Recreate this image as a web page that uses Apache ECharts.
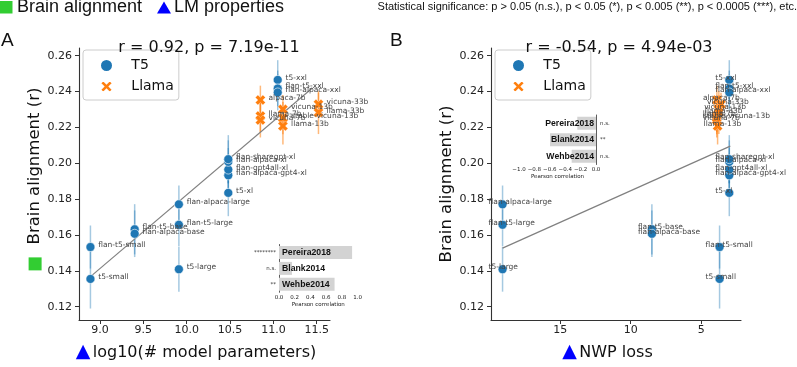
<!DOCTYPE html>
<html>
<head>
<meta charset="utf-8">
<script src="https://cdn.jsdelivr.net/npm/echarts@6/dist/echarts.min.js"></script>
<style>
    html, body { margin: 0; padding: 0; background: #fff; }
    #chart { width: 797px; height: 367px; }
</style>
</head>
<body>
<div id="chart"></div>
<script>
// T5 family
const t5Names = ['t5-small', 'flan-t5-small', 'flan-t5-base', 'flan-alpaca-base', 't5-large', 'flan-t5-large',
    'flan-alpaca-large', 't5-xl', 'flan-alpaca-gpt4-xl', 'flan-gpt4all-xl', 'flan-alpaca-xl', 'flan-sharegpt-xl',
    't5-xxl', 'flan-t5-xxl', 'flan-alpaca-xxl'];
const t5Params = [8.89, 8.89, 9.40, 9.40, 9.91, 9.91, 9.91, 10.48, 10.48, 10.48, 10.48, 10.48, 11.05, 11.05, 11.05];
const t5Loss = [3.70, 3.70, 8.50, 8.50, 19.09, 19.09, 19.09, 3.01, 3.01, 3.01, 3.01, 3.01, 3.01, 3.01, 3.01];
const t5Align = [0.1355, 0.1533, 0.1632, 0.1607, 0.1409, 0.1657, 0.1771, 0.1835, 0.1933, 0.1965, 0.2008, 0.2023,
    0.2465, 0.2417, 0.2395];
const t5Err = [0.0165, 0.012, 0.014, 0.013, 0.0125, 0.012, 0.0105, 0.013, 0.012, 0.012, 0.012, 0.0134, 0.011, 0.01, 0.01];

// Llama family
const llamaNames = ['alpaca-7b', 'llama-7b', 'vicuna-7b', 'vicuna-13b', 'stable-vicuna-13b', 'llama-13b',
    'vicuna-33b', 'llama-33b'];
const llamaParams = [10.85, 10.85, 10.85, 11.11, 11.11, 11.11, 11.52, 11.52];
const llamaLoss = [3.89, 3.90, 3.90, 3.80, 3.90, 3.84, 3.60, 3.75];
const llamaAlign = [0.2353, 0.2264, 0.2241, 0.2301, 0.2252, 0.2208, 0.2329, 0.2283];
const llamaErr = [0.008, 0.009, 0.0097, 0.008, 0.009, 0.0103, 0.0065, 0.012];

// regression lines (end points)
const fitParamsX = [8.89, 11.45];
const fitParamsY = [0.1368, 0.2420];
const fitLossX = [19.09, 2.94];
const fitLossY = [0.1527, 0.2096];

// inset bar charts
const datasets = ['Pereira2018', 'Blank2014', 'Wehbe2014'];
const paramsCorr = [0.93, 0.165, 0.707];
const paramsSig = ['********', 'n.s.', '**'];
const lossCorr = [-0.243, -0.597, -0.316];
const lossSig = ['n.s.', '**', 'n.s.'];

// ticks
const yTicks = [0.12, 0.14, 0.16, 0.18, 0.20, 0.22, 0.24, 0.26];
const paramsTicks = [9.0, 9.5, 10.0, 10.5, 11.0, 11.5];
const lossTicks = [5, 10, 15];
const insetTicksPos = [0, 0.2, 0.4, 0.6, 0.8, 1.0];
const insetTicksNeg = [-1.0, -0.8, -0.6, -0.4, -0.2, 0];

const BLUE = '#1f77b4';
const ORANGE = '#ff7f0e';
const GREEN = '#32cd32';
const X_PATH = 'path://M0.25,0 L0.5,0.25 L0.75,0 L1,0.25 L0.75,0.5 L1,0.75 L0.75,1 L0.5,0.75 L0.25,1 L0,0.75 L0.25,0.5 L0,0.25 Z';
const SANS = 'DejaVu Sans';

const chart = echarts.init(document.getElementById('chart'), null, {renderer: 'canvas'});

function points(xs, ys, names) {
    return xs.map((x, i) => ({name: names[i], value: [x, ys[i]]}));
}

function errData(xs, ys, es) {
    return xs.map((x, i) => [x, ys[i], es[i]]);
}

function errSeries(data, color, idx) {
    return {
        type: 'custom',
        xAxisIndex: idx, yAxisIndex: idx,
        data: data,
        encode: {x: 0, y: 1},
        z: 2,
        silent: true,
        renderItem: (params, api) => {
            const x = api.value(0), y = api.value(1), e = api.value(2);
            const top = api.coord([x, y + e]);
            const bot = api.coord([x, y - e]);
            return {
                type: 'line',
                shape: {x1: top[0], y1: top[1], x2: bot[0], y2: bot[1]},
                style: {stroke: color, lineWidth: 1.5}
            };
        }
    };
}

// triangle in front, same width padded after so the words stay centred
const nameRich = {
    tri: {color: '#0000ff', fontSize: 19, width: 17, align: 'left'},
    pad: {width: 17},
    sq: {width: 13, height: 13, backgroundColor: GREEN},
    gap: {width: 13},
    off: {width: 10}
};

function mainXAxis(idx, min, max, ticks, inverse, nameText) {
    return {
        type: 'value', gridIndex: idx, min: min, max: max, inverse: inverse,
        name: '{tri|▲}' + nameText + '{pad|}',
        nameLocation: 'middle', nameGap: 23,
        nameTextStyle: {fontFamily: SANS, fontSize: 16, color: '#111', rich: nameRich},
        axisLine: {lineStyle: {color: '#333', width: 1.1}},
        axisTick: {length: 4, customValues: ticks, lineStyle: {color: '#333'}},
        axisLabel: {customValues: ticks, fontFamily: SANS, fontSize: 11, color: '#222', margin: 5,
            formatter: v => idx === 0 ? v.toFixed(1) : String(Math.round(v))},
        splitLine: {show: false}
    };
}

function mainYAxis(idx, name) {
    return {
        type: 'value', gridIndex: idx, min: 0.1126, max: 0.2643,
        name: name,
        nameLocation: 'middle', nameGap: 35, nameRotate: 90,
        nameTextStyle: {fontFamily: SANS, fontSize: 16.5, color: '#111', rich: nameRich},
        axisLine: {show: true, lineStyle: {color: '#333', width: 1.1}},
        axisTick: {show: true, length: 4, customValues: yTicks, lineStyle: {color: '#333'}},
        axisLabel: {customValues: yTicks, fontFamily: SANS, fontSize: 11, color: '#222', margin: 7,
            formatter: v => v.toFixed(2)},
        splitLine: {show: false}
    };
}

const pointLabelLeft = {
    show: true, formatter: '{b}', position: 'right', distance: 3, offset: [0, -2],
    fontFamily: SANS, fontSize: 7.5, color: '#444'
};
const pointLabelRight = {
    show: true, formatter: '{b}', position: 'inside', align: 'left', offset: [-14, -2],
    fontFamily: SANS, fontSize: 7.5, color: '#444'
};

function legendBox(left) {
    return {
        left: left, top: 50, orient: 'vertical',
        padding: [8, 5, 6, 16], itemGap: 6, itemWidth: 13, itemHeight: 13,
        borderColor: '#ccc', borderWidth: 1, borderRadius: 3,
        backgroundColor: 'rgba(255,255,255,0.8)',
        formatter: n => '   ' + n,
        textStyle: {fontFamily: SANS, fontSize: 14, color: '#111'},
        data: [{name: 'T5', icon: 'circle'}, {name: 'Llama', icon: X_PATH}]
    };
}

function scatter(name, idx, xs, ys, names, symbol, label) {
    return {
        name: name, type: 'scatter', xAxisIndex: idx, yAxisIndex: idx, z: 4,
        data: points(xs, ys, names),
        symbol: symbol, symbolSize: symbol === 'circle' ? 9 : 10,
        itemStyle: {color: symbol === 'circle' ? BLUE : ORANGE, borderColor: '#fff',
            borderWidth: symbol === 'circle' ? 0.6 : 0.3, opacity: 1},
        label: label
    };
}

const option = {
    animation: false,
    backgroundColor: '#fff',
    title: [
        {text: 'r = 0.92, p = 7.19e-11', left: 204, top: 35, textAlign: 'center',
            textStyle: {fontFamily: SANS, fontSize: 16, fontWeight: 'normal', color: '#111'}},
        {text: 'r = -0.54, p = 4.94e-03', left: 614, top: 35, textAlign: 'center',
            textStyle: {fontFamily: SANS, fontSize: 16, fontWeight: 'normal', color: '#111'}}
    ],
    legend: [legendBox(83), legendBox(495)],
    grid: [
        {left: 79, top: 48, width: 251, height: 272},
        {left: 491, top: 48, width: 250, height: 272},
        {left: 279, top: 244.5, width: 78.6, height: 47.8},
        {left: 519, top: 115, width: 77, height: 49.5}
    ],
    xAxis: [
        mainXAxis(0, 8.758, 11.653, paramsTicks, false, 'log10(# model parameters)'),
        mainXAxis(1, 2.18, 19.91, lossTicks, true, 'NWP loss'),
        {
            type: 'value', gridIndex: 2, min: 0, max: 1,
            name: 'Pearson correlation', nameLocation: 'middle', nameGap: 9,
            nameTextStyle: {fontFamily: SANS, fontSize: 5.5, color: '#222'},
            axisLine: {lineStyle: {color: '#333', width: 0.8}},
            axisTick: {length: 2, customValues: insetTicksPos, lineStyle: {color: '#333', width: 0.6}},
            axisLabel: {customValues: insetTicksPos, fontFamily: SANS, fontSize: 5.5, color: '#222', margin: 2,
                formatter: v => v.toFixed(1)},
            splitLine: {show: false}
        },
        {
            type: 'value', gridIndex: 3, min: -1, max: 0,
            name: 'Pearson correlation', nameLocation: 'middle', nameGap: 9,
            nameTextStyle: {fontFamily: SANS, fontSize: 5.5, color: '#222'},
            axisLine: {lineStyle: {color: '#333', width: 0.8}},
            axisTick: {length: 2, customValues: insetTicksNeg, lineStyle: {color: '#333', width: 0.6}},
            axisLabel: {customValues: insetTicksNeg, fontFamily: SANS, fontSize: 5.5, color: '#222', margin: 2,
                formatter: v => v.toFixed(1).replace('-', '\u2212')},
            splitLine: {show: false}
        }
    ],
    yAxis: [
        mainYAxis(0, '{off|}{sq|}{gap|}Brain alignment (r)'),
        mainYAxis(1, 'Brain alignment (r)'),
        {
            type: 'category', gridIndex: 2, data: datasets, inverse: true,
            axisLine: {lineStyle: {color: '#333', width: 0.8}},
            axisTick: {show: false},
            axisLabel: {fontFamily: SANS, fontSize: 5.5, color: '#333', margin: 3,
                formatter: (v, i) => paramsSig[i]}
        },
        {
            type: 'category', gridIndex: 3, data: datasets, inverse: true, position: 'right',
            axisLine: {onZero: false, lineStyle: {color: '#333', width: 0.8}},
            axisTick: {show: false},
            axisLabel: {fontFamily: SANS, fontSize: 5.5, color: '#333', margin: 4,
                formatter: (v, i) => lossSig[i]}
        }
    ],
    series: [
        errSeries(errData(t5Params, t5Align, t5Err), 'rgba(31,119,180,0.4)', 0),
        errSeries(errData(llamaParams, llamaAlign, llamaErr), 'rgba(255,127,14,0.55)', 0),
        {
            type: 'line', xAxisIndex: 0, yAxisIndex: 0, silent: true, z: 3,
            data: fitParamsX.map((x, i) => [x, fitParamsY[i]]),
            showSymbol: false, lineStyle: {color: '#808080', width: 1.2}
        },
        scatter('T5', 0, t5Params, t5Align, t5Names, 'circle', pointLabelLeft),
        scatter('Llama', 0, llamaParams, llamaAlign, llamaNames, X_PATH, pointLabelLeft),
        errSeries(errData(t5Loss, t5Align, t5Err), 'rgba(31,119,180,0.4)', 1),
        errSeries(errData(llamaLoss, llamaAlign, llamaErr), 'rgba(255,127,14,0.55)', 1),
        {
            type: 'line', xAxisIndex: 1, yAxisIndex: 1, silent: true, z: 3,
            data: fitLossX.map((x, i) => [x, fitLossY[i]]),
            showSymbol: false, lineStyle: {color: '#808080', width: 1.2}
        },
        scatter('T5', 1, t5Loss, t5Align, t5Names, 'circle', pointLabelRight),
        scatter('Llama', 1, llamaLoss, llamaAlign, llamaNames, X_PATH, pointLabelRight),
        {
            type: 'bar', xAxisIndex: 2, yAxisIndex: 2, data: paramsCorr, barWidth: 13, silent: true,
            itemStyle: {color: '#d3d3d3'},
            label: {show: true, position: 'insideLeft', distance: 3, formatter: p => datasets[p.dataIndex],
                fontFamily: 'Liberation Sans', fontSize: 8.7, fontWeight: 'bold', color: '#111'}
        },
        {
            type: 'bar', xAxisIndex: 3, yAxisIndex: 3, data: lossCorr, barWidth: 13, silent: true,
            itemStyle: {color: '#d3d3d3'},
            label: {show: true, position: 'insideRight', distance: 2, formatter: p => datasets[p.dataIndex],
                fontFamily: 'Liberation Sans', fontSize: 8.7, fontWeight: 'bold', color: '#111'}
        }
    ],
    graphic: [
        {type: 'rect', left: 0, top: 1, shape: {width: 12.5, height: 12.5}, style: {fill: GREEN}},
        {type: 'text', left: 17, top: -1.5, style: {text: 'Brain alignment', font: '18px "Liberation Sans"', fill: '#111'}},
        {type: 'polygon', shape: {points: [[157, 13.5], [164, 1.5], [171, 13.5]]}, style: {fill: '#0000ff'}},
        {type: 'text', left: 174, top: -1.5, style: {text: 'LM properties', font: '18px "Liberation Sans"', fill: '#111'}},
        {type: 'text', right: 0, top: 1, style: {
            text: 'Statistical significance: p > 0.05 (n.s.), p < 0.05 (*), p < 0.005 (**), p < 0.0005 (***), etc.',
            font: '11px "Liberation Sans"', fill: '#111'}},
        {type: 'text', left: 1, top: 31, style: {text: 'A', font: '19px "Liberation Sans"', fill: '#111'}},
        {type: 'text', left: 390, top: 31, style: {text: 'B', font: '19px "Liberation Sans"', fill: '#111'}}
    ]
};

chart.setOption(option);
</script>
</body>
</html>
